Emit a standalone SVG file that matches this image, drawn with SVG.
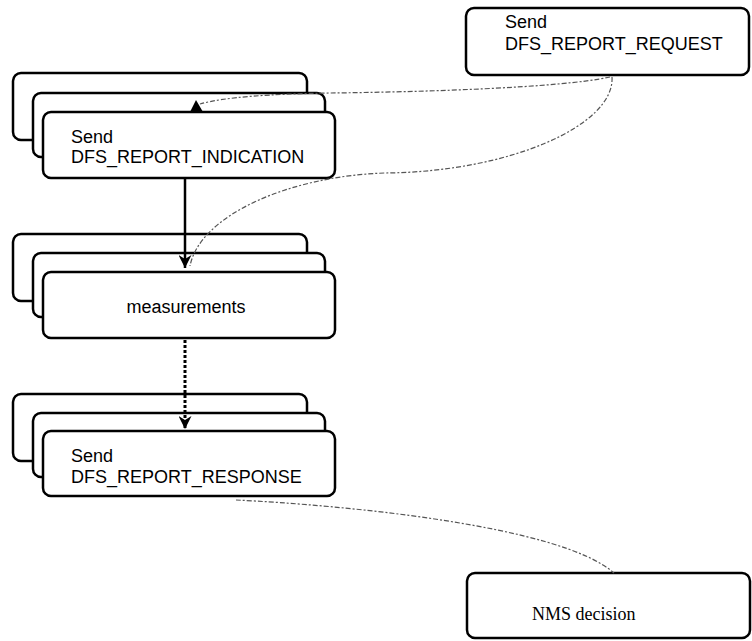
<svg xmlns="http://www.w3.org/2000/svg" width="752" height="641" viewBox="0 0 752 641">
<style>
.box{fill:#fff;stroke:#000;stroke-width:2.5}
.t{font-family:"Liberation Sans",Arial,sans-serif;font-size:18px;fill:#000}
.ts{font-family:"Liberation Serif","Times New Roman",serif;font-size:18px;fill:#000}
.flow{fill:none;stroke:#000;stroke-width:2.5}
.dot{fill:none;stroke:#000;stroke-width:3;stroke-dasharray:3 2}
.thin{fill:none;stroke:#555;stroke-width:1.2;stroke-dasharray:5 2 2 2}
</style>
<defs>
<marker id="ah" viewBox="0 0 10 10" refX="10" refY="5" markerWidth="13" markerHeight="13" markerUnits="userSpaceOnUse" orient="auto">
<path d="M0,0 L10,5 L0,10 L3,5 z" fill="#000"/>
</marker>
</defs>
<g id="req">
<rect class="box" x="466" y="8" width="283" height="67" rx="8"/>
<text class="t" x="505" y="28">Send</text>
<text class="t" x="505" y="50">DFS_REPORT_REQUEST</text>
</g>
<g id="indication">
<rect class="box" x="13" y="73" width="294" height="67" rx="8"/>
<rect class="box" x="33" y="93" width="292" height="64" rx="8"/>
<rect class="box" x="43" y="112" width="292" height="66" rx="8"/>
<text class="t" x="71" y="143">Send</text>
<text class="t" x="71" y="163">DFS_REPORT_INDICATION</text>
</g>
<g id="measurements">
<rect class="box" x="13" y="234" width="294" height="67" rx="8"/>
<rect class="box" x="33" y="253" width="292" height="64" rx="8"/>
<rect class="box" x="43" y="272" width="292" height="66" rx="8"/>
<text class="t" x="186" y="313" text-anchor="middle">measurements</text>
</g>
<g id="response">
<rect class="box" x="13" y="394" width="294" height="67" rx="8"/>
<rect class="box" x="33" y="413" width="292" height="64" rx="8"/>
<rect class="box" x="43" y="431" width="292" height="65" rx="8"/>
<text class="t" x="71" y="462">Send</text>
<text class="t" x="71" y="483">DFS_REPORT_RESPONSE</text>
</g>
<g id="nms">
<rect class="box" x="467" y="573" width="283" height="65" rx="8"/>
<text class="ts" x="532" y="620">NMS decision</text>
</g>
<g id="connectors">
<line class="flow" x1="185" y1="179" x2="185" y2="268" marker-end="url(#ah)"/>
<line class="dot" x1="185" y1="340" x2="185" y2="429" marker-end="url(#ah)"/>
<path class="thin" d="M610,77 C560,88 420,92 330,93 C270,94 225,97 200,104"/>
<polygon points="190,112 203,112 196,100" fill="#000"/>
<path class="thin" d="M612,77 C615,125 510,172 385,173 C290,176 200,215 190,266"/>
<path class="thin" d="M236,500 C340,505 560,525 614,573"/>
</g>
</svg>
